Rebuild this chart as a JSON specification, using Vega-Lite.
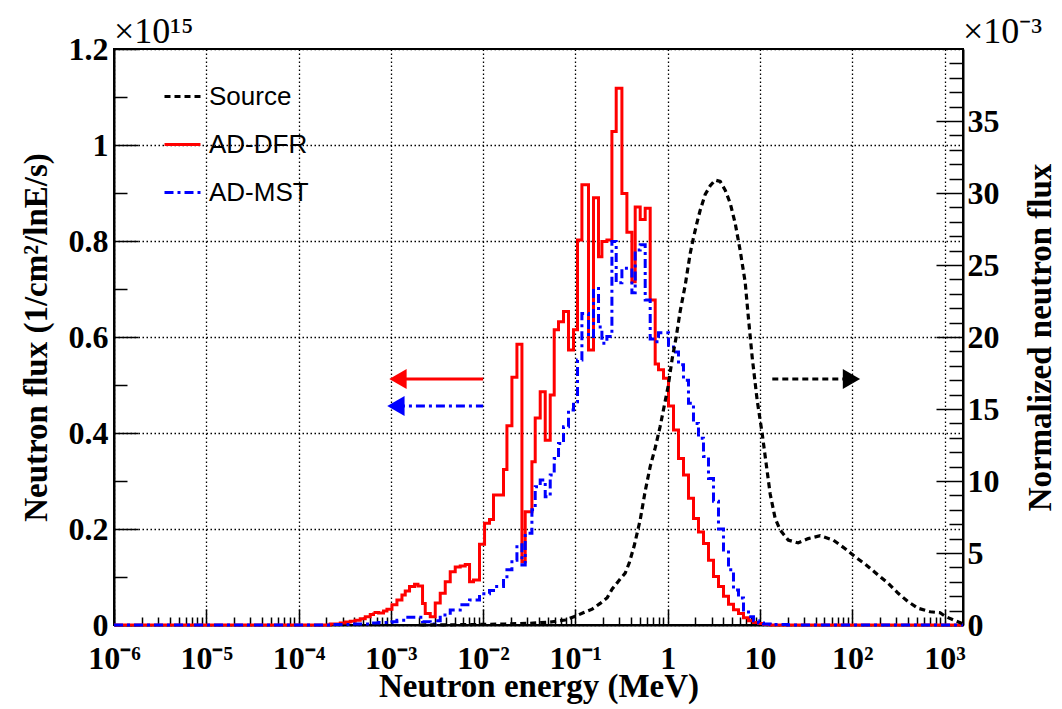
{
  "$schema": "https://vega.github.io/schema/vega-lite/v6.json",
  "width": 849,
  "height": 576,
  "autosize": {"type": "none"},
  "padding": {"left": 114, "top": 49, "right": 99, "bottom": 84},
  "background": "white",
  "config": {
    "view": {"stroke": "black", "strokeWidth": 2},
    "axis": {
      "domainColor": "black", "domainWidth": 2,
      "tickColor": "black", "tickWidth": 1.5,
      "labelFont": "Liberation Serif", "labelFontWeight": "bold", "labelFontSize": 32, "labelColor": "black",
      "titleFont": "Liberation Serif", "titleFontWeight": "bold", "titleFontSize": 33, "titleColor": "black",
      "gridColor": "black", "gridDash": [1.5, 2.5], "gridWidth": 1.3,
      "labelOverlap": false, "labelFlush": false, "labelBound": false
    }
  },
  "datasets": {
    "hist": [
      {"s": "AD-DFR", "E": 1e-6, "flux": 0},
      {"s": "AD-DFR", "E": 2.2e-4, "flux": 0.002},
      {"s": "AD-DFR", "E": 2.83e-4, "flux": 0.004},
      {"s": "AD-DFR", "E": 3.21e-4, "flux": 0.006},
      {"s": "AD-DFR", "E": 3.63e-4, "flux": 0.008},
      {"s": "AD-DFR", "E": 4.11e-4, "flux": 0.010},
      {"s": "AD-DFR", "E": 4.66e-4, "flux": 0.013},
      {"s": "AD-DFR", "E": 5.28e-4, "flux": 0.017},
      {"s": "AD-DFR", "E": 5.98e-4, "flux": 0.022},
      {"s": "AD-DFR", "E": 6.49e-4, "flux": 0.026},
      {"s": "AD-DFR", "E": 7.36e-4, "flux": 0.025},
      {"s": "AD-DFR", "E": 8.33e-4, "flux": 0.029},
      {"s": "AD-DFR", "E": 9.07e-4, "flux": 0.033},
      {"s": "AD-DFR", "E": 0.001028, "flux": 0.042},
      {"s": "AD-DFR", "E": 0.001164, "flux": 0.052},
      {"s": "AD-DFR", "E": 0.001319, "flux": 0.0625},
      {"s": "AD-DFR", "E": 0.001432, "flux": 0.071},
      {"s": "AD-DFR", "E": 0.001594, "flux": 0.080},
      {"s": "AD-DFR", "E": 0.001806, "flux": 0.085},
      {"s": "AD-DFR", "E": 0.001966, "flux": 0.081},
      {"s": "AD-DFR", "E": 0.002205, "flux": 0.045},
      {"s": "AD-DFR", "E": 0.002359, "flux": 0.024},
      {"s": "AD-DFR", "E": 0.002673, "flux": 0.017},
      {"s": "AD-DFR", "E": 0.003028, "flux": 0.046},
      {"s": "AD-DFR", "E": 0.003429, "flux": 0.066},
      {"s": "AD-DFR", "E": 0.003886, "flux": 0.090},
      {"s": "AD-DFR", "E": 0.004401, "flux": 0.111},
      {"s": "AD-DFR", "E": 0.004985, "flux": 0.121},
      {"s": "AD-DFR", "E": 0.005647, "flux": 0.123},
      {"s": "AD-DFR", "E": 0.006399, "flux": 0.126},
      {"s": "AD-DFR", "E": 0.007125, "flux": 0.090},
      {"s": "AD-DFR", "E": 0.00787, "flux": 0.094},
      {"s": "AD-DFR", "E": 0.009141, "flux": 0.168},
      {"s": "AD-DFR", "E": 0.01036, "flux": 0.212},
      {"s": "AD-DFR", "E": 0.01173, "flux": 0.220},
      {"s": "AD-DFR", "E": 0.01296, "flux": 0.271},
      {"s": "AD-DFR", "E": 0.01663, "flux": 0.324},
      {"s": "AD-DFR", "E": 0.01811, "flux": 0.415},
      {"s": "AD-DFR", "E": 0.02051, "flux": 0.516},
      {"s": "AD-DFR", "E": 0.02324, "flux": 0.585},
      {"s": "AD-DFR", "E": 0.02633, "flux": 0.132},
      {"s": "AD-DFR", "E": 0.02858, "flux": 0.236},
      {"s": "AD-DFR", "E": 0.03378, "flux": 0.340},
      {"s": "AD-DFR", "E": 0.03668, "flux": 0.431},
      {"s": "AD-DFR", "E": 0.04155, "flux": 0.486},
      {"s": "AD-DFR", "E": 0.04708, "flux": 0.385},
      {"s": "AD-DFR", "E": 0.05333, "flux": 0.479},
      {"s": "AD-DFR", "E": 0.05892, "flux": 0.615},
      {"s": "AD-DFR", "E": 0.06561, "flux": 0.632},
      {"s": "AD-DFR", "E": 0.07432, "flux": 0.653},
      {"s": "AD-DFR", "E": 0.08418, "flux": 0.573},
      {"s": "AD-DFR", "E": 0.09537, "flux": 0.615},
      {"s": "AD-DFR", "E": 0.1054, "flux": 0.802},
      {"s": "AD-DFR", "E": 0.1176, "flux": 0.917},
      {"s": "AD-DFR", "E": 0.1387, "flux": 0.573},
      {"s": "AD-DFR", "E": 0.1571, "flux": 0.890},
      {"s": "AD-DFR", "E": 0.178, "flux": 0.767},
      {"s": "AD-DFR", "E": 0.1937, "flux": 0.799},
      {"s": "AD-DFR", "E": 0.2194, "flux": 0.802},
      {"s": "AD-DFR", "E": 0.2486, "flux": 1.028},
      {"s": "AD-DFR", "E": 0.2767, "flux": 1.118},
      {"s": "AD-DFR", "E": 0.319, "flux": 0.899},
      {"s": "AD-DFR", "E": 0.3614, "flux": 0.818},
      {"s": "AD-DFR", "E": 0.4093, "flux": 0.715},
      {"s": "AD-DFR", "E": 0.4445, "flux": 0.871},
      {"s": "AD-DFR", "E": 0.5036, "flux": 0.845},
      {"s": "AD-DFR", "E": 0.5704, "flux": 0.868},
      {"s": "AD-DFR", "E": 0.6461, "flux": 0.677},
      {"s": "AD-DFR", "E": 0.732, "flux": 0.544},
      {"s": "AD-DFR", "E": 0.7949, "flux": 0.532},
      {"s": "AD-DFR", "E": 0.9005, "flux": 0.514},
      {"s": "AD-DFR", "E": 1.02, "flux": 0.456},
      {"s": "AD-DFR", "E": 1.156, "flux": 0.406},
      {"s": "AD-DFR", "E": 1.309, "flux": 0.347},
      {"s": "AD-DFR", "E": 1.483, "flux": 0.3125},
      {"s": "AD-DFR", "E": 1.68, "flux": 0.264},
      {"s": "AD-DFR", "E": 1.903, "flux": 0.222},
      {"s": "AD-DFR", "E": 2.157, "flux": 0.194},
      {"s": "AD-DFR", "E": 2.443, "flux": 0.170},
      {"s": "AD-DFR", "E": 2.767, "flux": 0.135},
      {"s": "AD-DFR", "E": 3.135, "flux": 0.101},
      {"s": "AD-DFR", "E": 3.551, "flux": 0.080},
      {"s": "AD-DFR", "E": 4.023, "flux": 0.060},
      {"s": "AD-DFR", "E": 4.558, "flux": 0.043},
      {"s": "AD-DFR", "E": 5.163, "flux": 0.032},
      {"s": "AD-DFR", "E": 5.849, "flux": 0.024},
      {"s": "AD-DFR", "E": 6.628, "flux": 0.015},
      {"s": "AD-DFR", "E": 7.506, "flux": 0.009},
      {"s": "AD-DFR", "E": 8.503, "flux": 0.005},
      {"s": "AD-DFR", "E": 9.634, "flux": 0.003},
      {"s": "AD-DFR", "E": 10.91, "flux": 0.001},
      {"s": "AD-DFR", "E": 12.9, "flux": 0},
      {"s": "AD-DFR", "E": 1585, "flux": 0},
      {"s": "AD-MST", "E": 1e-6, "flux": 0},
      {"s": "AD-MST", "E": 2.2e-4, "flux": 0.001},
      {"s": "AD-MST", "E": 3.63e-4, "flux": 0.002},
      {"s": "AD-MST", "E": 5.98e-4, "flux": 0.004},
      {"s": "AD-MST", "E": 7.36e-4, "flux": 0.005},
      {"s": "AD-MST", "E": 0.001028, "flux": 0.007},
      {"s": "AD-MST", "E": 0.001164, "flux": 0.010},
      {"s": "AD-MST", "E": 0.001432, "flux": 0.016},
      {"s": "AD-MST", "E": 0.002205, "flux": 0.007},
      {"s": "AD-MST", "E": 0.002673, "flux": 0.002},
      {"s": "AD-MST", "E": 0.003028, "flux": 0.009},
      {"s": "AD-MST", "E": 0.003429, "flux": 0.021},
      {"s": "AD-MST", "E": 0.004401, "flux": 0.031},
      {"s": "AD-MST", "E": 0.005647, "flux": 0.042},
      {"s": "AD-MST", "E": 0.007125, "flux": 0.052},
      {"s": "AD-MST", "E": 0.009141, "flux": 0.065},
      {"s": "AD-MST", "E": 0.01173, "flux": 0.072},
      {"s": "AD-MST", "E": 0.01296, "flux": 0.080},
      {"s": "AD-MST", "E": 0.01663, "flux": 0.097},
      {"s": "AD-MST", "E": 0.01811, "flux": 0.115},
      {"s": "AD-MST", "E": 0.02051, "flux": 0.135},
      {"s": "AD-MST", "E": 0.02324, "flux": 0.167},
      {"s": "AD-MST", "E": 0.02633, "flux": 0.125},
      {"s": "AD-MST", "E": 0.02858, "flux": 0.191},
      {"s": "AD-MST", "E": 0.03378, "flux": 0.240},
      {"s": "AD-MST", "E": 0.03668, "flux": 0.288},
      {"s": "AD-MST", "E": 0.04155, "flux": 0.302},
      {"s": "AD-MST", "E": 0.04708, "flux": 0.267},
      {"s": "AD-MST", "E": 0.05333, "flux": 0.3125},
      {"s": "AD-MST", "E": 0.05892, "flux": 0.347},
      {"s": "AD-MST", "E": 0.06561, "flux": 0.378},
      {"s": "AD-MST", "E": 0.07432, "flux": 0.413},
      {"s": "AD-MST", "E": 0.08418, "flux": 0.448},
      {"s": "AD-MST", "E": 0.09537, "flux": 0.465},
      {"s": "AD-MST", "E": 0.1054, "flux": 0.552},
      {"s": "AD-MST", "E": 0.1176, "flux": 0.649},
      {"s": "AD-MST", "E": 0.1387, "flux": 0.601},
      {"s": "AD-MST", "E": 0.1571, "flux": 0.701},
      {"s": "AD-MST", "E": 0.178, "flux": 0.621},
      {"s": "AD-MST", "E": 0.1937, "flux": 0.587},
      {"s": "AD-MST", "E": 0.2194, "flux": 0.601},
      {"s": "AD-MST", "E": 0.2486, "flux": 0.799},
      {"s": "AD-MST", "E": 0.2767, "flux": 0.713},
      {"s": "AD-MST", "E": 0.319, "flux": 0.743},
      {"s": "AD-MST", "E": 0.4093, "flux": 0.692},
      {"s": "AD-MST", "E": 0.4445, "flux": 0.781},
      {"s": "AD-MST", "E": 0.5036, "flux": 0.792},
      {"s": "AD-MST", "E": 0.5704, "flux": 0.677},
      {"s": "AD-MST", "E": 0.6461, "flux": 0.596},
      {"s": "AD-MST", "E": 0.732, "flux": 0.590},
      {"s": "AD-MST", "E": 0.7949, "flux": 0.609},
      {"s": "AD-MST", "E": 1.02, "flux": 0.583},
      {"s": "AD-MST", "E": 1.156, "flux": 0.569},
      {"s": "AD-MST", "E": 1.309, "flux": 0.542},
      {"s": "AD-MST", "E": 1.483, "flux": 0.510},
      {"s": "AD-MST", "E": 1.68, "flux": 0.462},
      {"s": "AD-MST", "E": 1.903, "flux": 0.420},
      {"s": "AD-MST", "E": 2.157, "flux": 0.389},
      {"s": "AD-MST", "E": 2.443, "flux": 0.351},
      {"s": "AD-MST", "E": 2.767, "flux": 0.305},
      {"s": "AD-MST", "E": 3.135, "flux": 0.258},
      {"s": "AD-MST", "E": 3.551, "flux": 0.200},
      {"s": "AD-MST", "E": 4.023, "flux": 0.156},
      {"s": "AD-MST", "E": 4.558, "flux": 0.115},
      {"s": "AD-MST", "E": 5.163, "flux": 0.073},
      {"s": "AD-MST", "E": 5.849, "flux": 0.056},
      {"s": "AD-MST", "E": 6.628, "flux": 0.031},
      {"s": "AD-MST", "E": 7.506, "flux": 0.017},
      {"s": "AD-MST", "E": 8.503, "flux": 0.009},
      {"s": "AD-MST", "E": 9.634, "flux": 0.004},
      {"s": "AD-MST", "E": 10.91, "flux": 0.002},
      {"s": "AD-MST", "E": 12.9, "flux": 0.001},
      {"s": "AD-MST", "E": 20, "flux": 0},
      {"s": "AD-MST", "E": 1585, "flux": 0}
    ],
    "src": [
      {"s": "Source", "E": 0.002082, "norm": 0},
      {"s": "Source", "E": 0.004401, "norm": 0.01},
      {"s": "Source", "E": 0.0093, "norm": 0.04},
      {"s": "Source", "E": 0.01736, "norm": 0.07},
      {"s": "Source", "E": 0.03238, "norm": 0.12},
      {"s": "Source", "E": 0.05333, "norm": 0.2},
      {"s": "Source", "E": 0.07753, "norm": 0.35},
      {"s": "Source", "E": 0.0995, "norm": 0.6},
      {"s": "Source", "E": 0.1215, "norm": 0.85},
      {"s": "Source", "E": 0.1521, "norm": 1.1},
      {"s": "Source", "E": 0.1857, "norm": 1.5},
      {"s": "Source", "E": 0.2211, "norm": 1.9},
      {"s": "Source", "E": 0.2504, "norm": 2.5},
      {"s": "Source", "E": 0.3058, "norm": 3.2},
      {"s": "Source", "E": 0.3463, "norm": 3.6},
      {"s": "Source", "E": 0.3827, "norm": 4.3},
      {"s": "Source", "E": 0.4337, "norm": 5.5},
      {"s": "Source", "E": 0.5036, "norm": 7.3},
      {"s": "Source", "E": 0.5704, "norm": 9.3},
      {"s": "Source", "E": 0.6461, "norm": 11.0},
      {"s": "Source", "E": 0.732, "norm": 12.3},
      {"s": "Source", "E": 0.8292, "norm": 13.8},
      {"s": "Source", "E": 1.0125, "norm": 16.6},
      {"s": "Source", "E": 1.119, "norm": 18.5},
      {"s": "Source", "E": 1.236, "norm": 20.0},
      {"s": "Source", "E": 1.366, "norm": 21.8},
      {"s": "Source", "E": 1.548, "norm": 23.6},
      {"s": "Source", "E": 1.753, "norm": 25.8},
      {"s": "Source", "E": 1.889, "norm": 26.8},
      {"s": "Source", "E": 2.087, "norm": 28.0},
      {"s": "Source", "E": 2.249, "norm": 28.8},
      {"s": "Source", "E": 2.548, "norm": 29.9},
      {"s": "Source", "E": 2.887, "norm": 30.5},
      {"s": "Source", "E": 3.27, "norm": 30.9},
      {"s": "Source", "E": 3.706, "norm": 30.8},
      {"s": "Source", "E": 4.198, "norm": 30.2},
      {"s": "Source", "E": 4.754, "norm": 29.3},
      {"s": "Source", "E": 5.387, "norm": 27.9},
      {"s": "Source", "E": 6.103, "norm": 26.0},
      {"s": "Source", "E": 6.914, "norm": 23.8},
      {"s": "Source", "E": 7.451, "norm": 21.5},
      {"s": "Source", "E": 8.232, "norm": 18.6},
      {"s": "Source", "E": 9.326, "norm": 15.6},
      {"s": "Source", "E": 10.56, "norm": 13.3},
      {"s": "Source", "E": 11.67, "norm": 11.2},
      {"s": "Source", "E": 12.9, "norm": 9.1},
      {"s": "Source", "E": 14.61, "norm": 7.4},
      {"s": "Source", "E": 16.55, "norm": 6.6},
      {"s": "Source", "E": 20.21, "norm": 5.9},
      {"s": "Source", "E": 25.94, "norm": 5.7},
      {"s": "Source", "E": 33.3, "norm": 6.0},
      {"s": "Source", "E": 44.89, "norm": 6.2},
      {"s": "Source", "E": 62.11, "norm": 5.9},
      {"s": "Source", "E": 83.77, "norm": 5.3},
      {"s": "Source", "E": 107.5, "norm": 4.74},
      {"s": "Source", "E": 141.5, "norm": 4.17},
      {"s": "Source", "E": 190.9, "norm": 3.47},
      {"s": "Source", "E": 244.8, "norm": 2.9},
      {"s": "Source", "E": 314.4, "norm": 2.2},
      {"s": "Source", "E": 403.5, "norm": 1.62},
      {"s": "Source", "E": 517.6, "norm": 1.16},
      {"s": "Source", "E": 698.2, "norm": 0.92},
      {"s": "Source", "E": 896.4, "norm": 0.85},
      {"s": "Source", "E": 1015, "norm": 0.6},
      {"s": "Source", "E": 1303, "norm": 0.3},
      {"s": "Source", "E": 1551, "norm": 0.1}
    ],
    "arrows": [
      {"s": "AD-DFR", "E": 0.01, "flux": 0.5125},
      {"s": "AD-DFR", "E": 0.001194, "flux": 0.5125},
      {"s": "AD-MST", "E": 0.01, "flux": 0.456},
      {"s": "AD-MST", "E": 0.001135, "flux": 0.456},
      {"s": "Source", "E": 13.6, "flux": 0.5125},
      {"s": "Source", "E": 98, "flux": 0.5125}
    ],
    "heads": [
      {"s": "AD-DFR", "E": 0.001194, "flux": 0.5125},
      {"s": "AD-MST", "E": 0.001135, "flux": 0.456},
      {"s": "Source", "E": 98, "flux": 0.5125}
    ],
    "exps": [
      {"E": 1e-6, "flux": 1.2, "t": "×10¹⁵"},
      {"E": 1585, "flux": 1.2, "t": "×10⁻³"}
    ]
  },
  "layer": [
    {
      "layer": [
        {
          "data": {"name": "hist"},
          "mark": {"type": "line", "interpolate": "step-after", "strokeWidth": 3},
          "encoding": {
            "x": {
              "field": "E", "type": "quantitative",
              "scale": {"type": "log", "domain": [1e-6, 1585], "nice": false},
              "axis": {
                "title": "Neutron energy (MeV)",
                "values": [1e-6, 2e-6, 3e-6, 4e-6, 5e-6, 6e-6, 7e-6, 8e-6, 9e-6,
                           1e-5, 2e-5, 3e-5, 4e-5, 5e-5, 6e-5, 7e-5, 8e-5, 9e-5,
                           1e-4, 2e-4, 3e-4, 4e-4, 5e-4, 6e-4, 7e-4, 8e-4, 9e-4,
                           0.001, 0.002, 0.003, 0.004, 0.005, 0.006, 0.007, 0.008, 0.009,
                           0.01, 0.02, 0.03, 0.04, 0.05, 0.06, 0.07, 0.08, 0.09,
                           0.1, 0.2, 0.3, 0.4, 0.5, 0.6, 0.7, 0.8, 0.9,
                           1, 2, 3, 4, 5, 6, 7, 8, 9,
                           10, 20, 30, 40, 50, 60, 70, 80, 90,
                           100, 200, 300, 400, 500, 600, 700, 800, 900, 1000],
                "labelExpr": "abs(log(datum.value)/LN10 - round(log(datum.value)/LN10)) < 0.01 ? ['10⁻⁶','10⁻⁵','10⁻⁴','10⁻³','10⁻²','10⁻¹','1','10','10²','10³'][round(log(datum.value)/LN10)+6] : ''",
                "labelFontSize": {"condition": {"test": "abs(log(datum.value)/LN10 - round(log(datum.value)/LN10)) < 0.01", "value": 32}, "value": 0},
                "tickSize": {"condition": {"test": "abs(log(datum.value)/LN10 - round(log(datum.value)/LN10)) < 0.01", "value": -16}, "value": -8},
                "grid": true,
                "gridOpacity": {"condition": {"test": "abs(log(datum.value)/LN10 - round(log(datum.value)/LN10)) < 0.01", "value": 1}, "value": 0},
                "labelBaseline": "alphabetic",
                "labelPadding": 59,
                "labelOverlap": false,
                "titlePadding": -6
              }
            },
            "y": {
              "field": "flux", "type": "quantitative",
              "scale": {"domain": [0, 1.2], "nice": false},
              "axis": {
                "title": "Neutron flux (1/cm²/lnE/s)",
                "values": [0, 0.05, 0.1, 0.15, 0.2, 0.25, 0.3, 0.35, 0.4, 0.45, 0.5, 0.55, 0.6, 0.65, 0.7, 0.75, 0.8, 0.85, 0.9, 0.95, 1, 1.05, 1.1, 1.15, 1.2],
                "labelExpr": "abs(datum.value*5 - round(datum.value*5)) < 0.001 ? format(datum.value, '~g') : ''",
                "labelFontSize": {"condition": {"test": "abs(datum.value*5 - round(datum.value*5)) < 0.001", "value": 32}, "value": 0},
                "tickSize": {"condition": {"test": "abs(datum.value*5 - round(datum.value*5)) < 0.001", "value": -24}, "value": -13},
                "grid": true,
                "gridOpacity": {"condition": {"test": "abs(datum.value*5 - round(datum.value*5)) < 0.001", "value": 1}, "value": 0},
                "labelPadding": 30,
                "labelOverlap": false,
                "titlePadding": 15
              }
            },
            "color": {
              "field": "s", "type": "nominal",
              "scale": {"domain": ["Source", "AD-DFR", "AD-MST"], "range": ["#000000", "#ff0000", "#0000ff"]},
              "legend": {
                "title": null, "orient": "none", "legendX": 49, "legendY": 28,
                "symbolType": "stroke", "symbolSize": 1296, "symbolStrokeWidth": 3,
                "labelFont": "Liberation Sans", "labelFontSize": 26, "labelColor": "black",
                "rowPadding": 15, "labelOffset": 7, "padding": 0
              }
            },
            "strokeDash": {
              "field": "s", "type": "nominal",
              "scale": {"domain": ["Source", "AD-DFR", "AD-MST"], "range": [[6, 4], [1, 0], [9, 4, 3, 4]]}
            }
          }
        },
        {
          "data": {"name": "arrows"},
          "mark": {"type": "line", "strokeWidth": 3},
          "encoding": {
            "x": {"field": "E", "type": "quantitative"},
            "y": {"field": "flux", "type": "quantitative"},
            "color": {"field": "s", "type": "nominal"},
            "strokeDash": {"field": "s", "type": "nominal"}
          }
        },
        {
          "data": {"name": "heads"},
          "transform": [{"filter": "datum.s == 'AD-DFR'"}],
          "mark": {"type": "point", "shape": "triangle-left", "filled": true, "fill": "#ff0000", "stroke": null, "size": 400, "opacity": 1},
          "encoding": {
            "x": {"field": "E", "type": "quantitative"},
            "y": {"field": "flux", "type": "quantitative"}
          }
        },
        {
          "data": {"name": "heads"},
          "transform": [{"filter": "datum.s == 'AD-MST'"}],
          "mark": {"type": "point", "shape": "triangle-left", "filled": true, "fill": "#0000ff", "stroke": null, "size": 400, "opacity": 1},
          "encoding": {
            "x": {"field": "E", "type": "quantitative"},
            "y": {"field": "flux", "type": "quantitative"}
          }
        },
        {
          "data": {"name": "heads"},
          "transform": [{"filter": "datum.s == 'Source'"}],
          "mark": {"type": "point", "shape": "triangle-right", "filled": true, "fill": "#000000", "stroke": null, "size": 400, "opacity": 1},
          "encoding": {
            "x": {"field": "E", "type": "quantitative"},
            "y": {"field": "flux", "type": "quantitative"}
          }
        },
        {
          "data": {"name": "exps"},
          "mark": {"type": "text", "align": "left", "baseline": "alphabetic", "dy": -6, "font": "Liberation Serif", "color": "black"},
          "encoding": {
            "x": {"field": "E", "type": "quantitative"},
            "y": {"field": "flux", "type": "quantitative"},
            "text": {"field": "t"},
            "size": {"value": 36}
          }
        }
      ]
    },
    {
      "layer": [
        {
          "data": {"name": "src"},
          "mark": {"type": "line", "strokeWidth": 3.2},
          "encoding": {
            "x": {"field": "E", "type": "quantitative"},
            "y": {
              "field": "norm", "type": "quantitative",
              "scale": {"domain": [0, 40], "nice": false},
              "axis": {
                "orient": "right",
                "title": "Normalized neutron flux",
                "values": [0, 1, 2, 3, 4, 5, 6, 7, 8, 9, 10, 11, 12, 13, 14, 15, 16, 17, 18, 19, 20, 21, 22, 23, 24, 25, 26, 27, 28, 29, 30, 31, 32, 33, 34, 35, 36, 37, 38, 39],
                "labelExpr": "round(datum.value/5)*5 == datum.value ? '' + datum.value : ''",
                "labelFontSize": {"condition": {"test": "round(datum.value/5)*5 == datum.value", "value": 32}, "value": 0},
                "tickSize": {"condition": {"test": "round(datum.value/5)*5 == datum.value", "value": -27}, "value": -14},
                "grid": false,
                "labelOverlap": false,
                "labelPadding": 31,
                "labelAlign": "left",
                "titleAngle": 270,
                "titleBaseline": "top",
                "titlePadding": 25
              }
            },
            "color": {"field": "s", "type": "nominal", "scale": {"domain": ["Source", "AD-DFR", "AD-MST"], "range": ["#000000", "#ff0000", "#0000ff"]}},
            "strokeDash": {"field": "s", "type": "nominal", "scale": {"domain": ["Source", "AD-DFR", "AD-MST"], "range": [[6, 4], [1, 0], [9, 4, 3, 4]]}}
          }
        }
      ]
    }
  ],
  "resolve": {"scale": {"y": "independent"}}
}
